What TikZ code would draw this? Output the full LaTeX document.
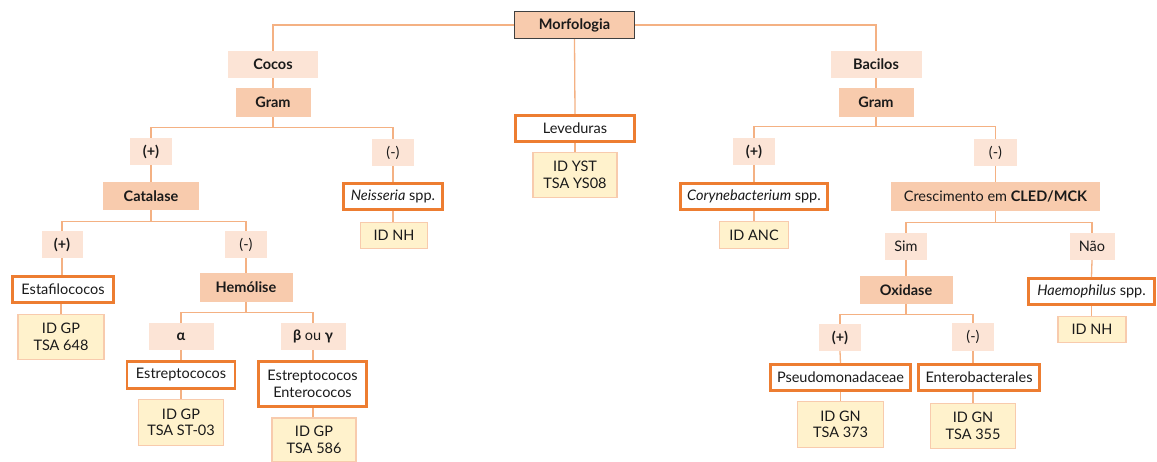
\documentclass[tikz,border=0pt]{standalone}
\usepackage{fontspec}
\setmainfont{Lato}
\definecolor{peachD}{HTML}{F8CBAD}
\definecolor{peachL}{HTML}{FCE4D6}
\definecolor{orgB}{HTML}{ED7D31}
\definecolor{lineC}{HTML}{F4B183}
\definecolor{idF}{HTML}{FFF2CC}
\definecolor{idB}{HTML}{F8CBAD}
\definecolor{darkB}{HTML}{404040}
\definecolor{txt}{HTML}{1A1A1A}
\newcommand{\fsz}{\fontsize{14.5}{16.5}\selectfont}
\tikzset{
  base/.style={inner sep=0pt, align=center, text=txt, font=\fsz},
  bx/.style 2 args={base, minimum width=#1pt, minimum height=#2pt},
  morfbox/.style={fill=peachD, draw=darkB, line width=1pt, font=\fsz\bfseries},
  darkbox/.style={fill=peachD, font=\fsz\bfseries},
  lightbox/.style={fill=peachL},
  lightbold/.style={fill=peachL, font=\fsz\bfseries},
  orgbox/.style={fill=white, draw=orgB, line width=2.6pt},
  idbox/.style={fill=idF, draw=idB, line width=1.4pt},
  conn/.style={draw=lineC, line width=1.3pt},
}
\begin{document}
\begin{tikzpicture}[x=1pt,y=-1pt]
\useasboundingbox[fill=white] (0,0) rectangle (1157,461);
% top
\node[bx={120}{27}, morfbox] (morf) at (574.5,25) {Morfologia};
\node[bx={90}{27}, lightbold] (cocos) at (273,64.5) {Cocos};
\node[bx={75}{29}, darkbox] (gramL) at (273,102.5) {Gram};
\node[bx={42}{27}, lightbold] (plusL) at (151,151.5) {(+)};
\node[bx={42}{27}, lightbox] (minusL) at (393,152.5) {(-)};
\node[bx={96}{28}, darkbox] (catalase) at (151,196) {Catalase};
\node[bx={99}{26}, orgbox] (neisseria) at (393,196.5) {\textit{Neisseria} spp.};
\node[bx={67}{26}, idbox] (idnhL) at (394,235.5) {ID NH};
\node[bx={41}{27}, lightbold] (plusC) at (62,244.5) {(+)};
\node[bx={42}{27}, lightbox] (minusC) at (246,244.5) {(-)};
\node[bx={101}{26}, orgbox] (estafilo) at (63,289.5) {Estafilococos};
\node[bx={86}{45}, idbox] (id648) at (61,337) {ID GP\\TSA 648};
\node[bx={93}{29}, darkbox] (hemolise) at (246,287.5) {Hemólise};
\node[bx={65}{27}, lightbold] (alpha) at (181,336.5) {α};
\node[bx={65}{27}, lightbold] (betagamma) at (313,336.5) {β \mdseries ou \bfseries γ};
\node[bx={108}{27}, orgbox] (estrepto) at (181,375) {Estreptococos};
\node[bx={108}{45}, orgbox] (estrentero) at (312.5,384) {Estreptococos\\Enterococos};
\node[bx={85}{46}, idbox] (idst03) at (181,422.5) {ID GP\\TSA ST-03};
\node[bx={84}{44}, idbox] (id586) at (314,440) {ID GP\\TSA 586};
% middle
\node[bx={119}{26}, orgbox] (leveduras) at (575,128.5) {Leveduras};
\node[bx={84}{45}, idbox] (idyst) at (575,175) {ID YST\\TSA YS08};
% right
\node[bx={91}{27}, lightbold] (bacilos) at (876,64.5) {Bacilos};
\node[bx={75}{29}, darkbox] (gramR) at (876,102.5) {Gram};
\node[bx={42}{27}, lightbold] (plusR) at (754,151.5) {(+)};
\node[bx={43}{27}, lightbox] (minusR) at (995.5,152.5) {(-)};
\node[bx={147}{26}, orgbox] (coryne) at (754,196.5) {\textit{Corynebacterium} spp.};
\node[bx={69}{27}, idbox] (idanc) at (754,235) {ID ANC};
\node[bx={209}{29}, darkbox, font=\fsz] (cled) at (995.5,196.5) {Crescimento em \textbf{CLED/MCK}};
\node[bx={42}{27}, lightbox] (sim) at (906,246.5) {Sim};
\node[bx={45}{27}, lightbox] (nao) at (1092,246.5) {Não};
\node[bx={93}{28}, darkbox] (oxidase) at (906,290) {Oxidase};
\node[bx={126}{26}, orgbox] (haemo) at (1091.5,291.5) {\textit{Haemophilus} spp.};
\node[bx={68}{26}, idbox] (idnhR) at (1092,329.5) {ID NH};
\node[bx={42}{27}, lightbold] (plusO) at (840,337.5) {(+)};
\node[bx={42}{28}, lightbox] (minusO) at (973,337) {(-)};
\node[bx={140}{26}, orgbox] (pseudo) at (840.5,377.5) {Pseudomonadaceae};
\node[bx={121}{26}, orgbox] (entero) at (979,377.5) {Enterobacterales};
\node[bx={86}{46}, idbox] (id373) at (840.5,424.5) {ID GN\\TSA 373};
\node[bx={85}{45}, idbox] (id355) at (973,426) {ID GN\\TSA 355};
% connectors
\path[conn] (morf.west) -| (cocos.north);
\path[conn] (morf.east) -| (bacilos.north);
\path[conn] (morf.south) -- (leveduras.north);
\path[conn] (leveduras.south) -- (idyst.north);
\path[conn] (cocos.south) -- (gramL.north);
\path[conn] (gramL.south) -- ++(0,10) -| (plusL.north);
\path[conn] (gramL.south) -- ++(0,10) -| (minusL.north);
\path[conn] (plusL.south) -- (catalase.north);
\path[conn] (minusL.south) -- (neisseria.north);
\path[conn] (neisseria.south) -- (neisseria.south |- idnhL.north);
\path[conn] (catalase.south) -- ++(0,11) -| (plusC.north);
\path[conn] (catalase.south) -- ++(0,11) -| (minusC.north);
\path[conn] (plusC.south) -- (plusC.south |- estafilo.north);
\path[conn] (estafilo.south -| id648.north) -- (id648.north);
\path[conn] (minusC.south) -- (hemolise.north);
\path[conn] (hemolise.south) -- ++(0,10) -| (alpha.north);
\path[conn] (hemolise.south) -- ++(0,10) -| (betagamma.north);
\path[conn] (alpha.south) -- (estrepto.north);
\path[conn] (estrepto.south) -- (idst03.north);
\path[conn] (betagamma.south) -- (betagamma.south |- estrentero.north);
\path[conn] (id586.north -| betagamma.south) -- (betagamma.south |- estrentero.south);
\path[conn] (bacilos.south) -- (gramR.north);
\path[conn] (gramR.south) -- ++(0,9) -| (plusR.north);
\path[conn] (gramR.south) -- ++(0,9) -| (minusR.north);
\path[conn] (plusR.south) -- (coryne.north);
\path[conn] (coryne.south) -- (idanc.north);
\path[conn] (minusR.south) -- (cled.north);
\path[conn] (cled.south) -- ++(0,11) -| (sim.north);
\path[conn] (cled.south) -- ++(0,11) -| (nao.north);
\path[conn] (sim.south) -- (oxidase.north);
\path[conn] (nao.south) -- (haemo.north);
\path[conn] (haemo.south) -- (haemo.south |- idnhR.north);
\path[conn] (oxidase.south) -- ++(0,10) -| (plusO.north);
\path[conn] (oxidase.south) -- ++(0,10) -| (minusO.north);
\path[conn] (plusO.south) -- (pseudo.north);
\path[conn] (pseudo.south) -- (id373.north);
\path[conn] (minusO.south) -- (minusO.south |- entero.north);
\path[conn] (id355.north) -- (id355.north |- entero.south);
\end{tikzpicture}
\end{document}
